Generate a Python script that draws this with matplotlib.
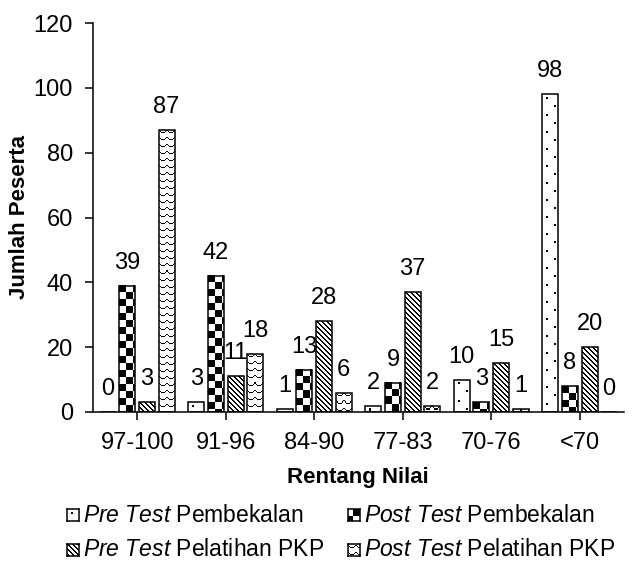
import numpy as np
import matplotlib

matplotlib.use("Agg")
import matplotlib.pyplot as plt

plt.rcParams["font.family"] = ["Liberation Sans", "DejaVu Sans"]
plt.rcParams["mathtext.fontset"] = "custom"
plt.rcParams["mathtext.rm"] = "Liberation Sans"
plt.rcParams["mathtext.it"] = "Liberation Sans:italic"

categories = ["97-100", "91-96", "84-90", "77-83", "70-76", "<70"]
pre_pembekalan = [0, 3, 1, 2, 10, 98]
post_pembekalan = [39, 42, 13, 9, 3, 8]
pre_pelatihan = [3, 11, 28, 37, 15, 20]
post_pelatihan = [87, 18, 6, 2, 1, 0]

labels = [
    r"$\mathit{Pre\ Test}$ Pembekalan",
    r"$\mathit{Post\ Test}$ Pembekalan",
    r"$\mathit{Pre\ Test}$ Pelatihan PKP",
    r"$\mathit{Post\ Test}$ Pelatihan PKP",
]

# fill patterns as small pixel tiles (1 = black)
tile_dots = np.zeros((17, 16))
tile_dots[3:5, 4:6] = 1
tile_dots[11:13, 12:14] = 1

tile_checker = np.kron([[1, 0], [0, 1]], np.ones((7, 7)))

tile_diag = np.zeros((5, 5))
for i in range(5):
    tile_diag[i, i] = 1
    tile_diag[i, (i + 1) % 5] = 1

tile_wave = np.zeros((7, 8))
tile_wave[1, [0, 7]] = 1
tile_wave[2, [1, 6]] = 1
tile_wave[3, 2:6] = 1

series = [
    (pre_pembekalan, tile_dots),
    (post_pembekalan, tile_checker),
    (pre_pelatihan, tile_diag),
    (post_pelatihan, tile_wave),
]

W, H = 635, 561
FS = 17


def fig_rect(x, y, w, h):
    return [x / W, 1 - (y + h) / H, w / W, h / H]


def tiled(tile, w_px, h_px):
    reps = (h_px // tile.shape[0] + 1, w_px // tile.shape[1] + 1)
    return np.tile(tile, reps)[:h_px, :w_px]


fig = plt.figure(figsize=(W / 100, H / 100), dpi=100)
ax = fig.add_axes(fig_rect(93, 23, 531, 389))
ax.set_xlim(-0.5, len(categories) - 0.5)
ax.set_ylim(0, 120)

x = np.arange(len(categories))
step = 0.2215
width = 0.18
for k, (values, tile) in enumerate(series):
    pos = x + (k - 1.5) * step
    for xi, v in zip(pos, values):
        if v <= 0:
            continue
        x0, x1 = xi - width / 2, xi + width / 2
        (px0, py0), (px1, py1) = ax.transData.transform([(x0, 0), (x1, v)])
        img = tiled(tile, max(int(round(px1 - px0)), 1), max(int(round(py1 - py0)), 1))
        ax.imshow(img, cmap="gray_r", vmin=0, vmax=1, extent=(x0, x1, 0, v),
                  interpolation="nearest", aspect="auto", zorder=1)
    ax.bar(pos, values, width=width, facecolor="none", edgecolor="black",
           linewidth=1.1, zorder=2)
    for xi, v in zip(pos, values):
        ax.annotate(str(v), (xi, v), xytext=(0, 16.5), textcoords="offset points",
                    ha="center", va="center", fontsize=FS)

ax.set_xlim(-0.5, len(categories) - 0.5)
ax.set_ylim(0, 120)
ax.set_yticks(np.arange(0, 121, 20))
ax.set_xticks(x)
ax.set_xticklabels(categories)
ax.tick_params(axis="both", labelsize=FS, width=1.1, length=5.5, direction="out")
ax.tick_params(axis="y", pad=9)
ax.tick_params(axis="x", pad=9)
for side in ("top", "right"):
    ax.spines[side].set_visible(False)
for side in ("left", "bottom"):
    ax.spines[side].set_linewidth(1.1)

fig.text(358 / W, 1 - 477 / H, "Rentang Nilai", fontsize=16, fontweight="bold",
         ha="center", va="center")
fig.text(20 / W, 1 - 217 / H, "Jumlah Peserta", fontsize=16, fontweight="bold",
         ha="center", va="center", rotation=90)

# legend drawn by hand: pattern icons + labels
icon_x = [67, 348]
row_y = [515, 550]
for k, (label, (_, tile)) in enumerate(zip(labels, series)):
    cx = icon_x[k % 2]
    cy = row_y[k // 2]
    iax = fig.add_axes(fig_rect(cx, cy - 6, 12, 12))
    icon = tiled(tile, 12, 12)
    if k == 1:
        icon = tiled(tile, 16, 16)[2:14, 2:14][::-1]
    iax.imshow(icon, cmap="gray_r", vmin=0, vmax=1, interpolation="nearest", aspect="auto")
    iax.set_xticks([])
    iax.set_yticks([])
    for sp in iax.spines.values():
        sp.set_linewidth(1.1)
    fig.text((cx + 16) / W, 1 - cy / H, label, fontsize=16.5, ha="left", va="center")

fig.savefig("out.png", dpi=100)
